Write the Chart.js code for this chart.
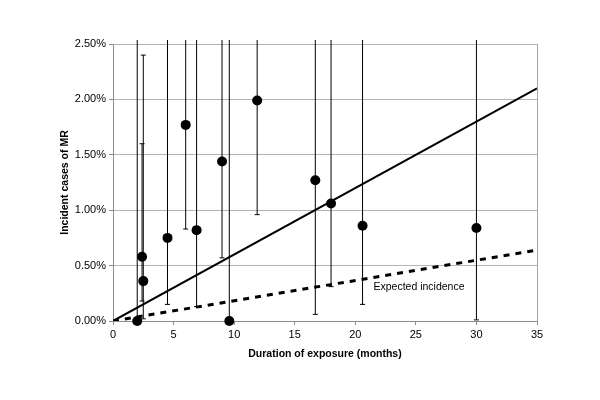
<!DOCTYPE html>
<html>
<head>
<meta charset="utf-8">
<script src="https://cdn.jsdelivr.net/npm/chart.js@4"></script>
<style>
  html, body { margin: 0; padding: 0; background: #fff; }
  #wrap { width: 600px; height: 400px; }
</style>
</head>
<body>
<div id="wrap"><canvas id="chart" width="600" height="400"></canvas></div>
<script>
// observed cases: duration (months) and incidence (%)
const durations = [2.0, 2.4, 2.5, 4.5, 6.0, 6.9, 9.0, 9.6, 11.9, 16.7, 18.0, 20.6, 30.0];
const incidence = [0.00, 0.58, 0.36, 0.75, 1.77, 0.82, 1.44, 0.00, 1.99, 1.27, 1.06, 0.86, 0.84];
// confidence limits (%), null = runs off the top of the axis
const lowerCI = [0.00, 0.18, 0.02, 0.15, 0.83, 0.13, 0.57, 0.00, 0.96, 0.06, 0.31, 0.15, 0.01];
const upperCI = [null, 1.60, 2.40, null, null, null, null, null, null, null, null, null, null];

// fitted trend and expected incidence lines
const lineX = [0, 35];
const fittedY = [0, 2.10];
const expectedY = [0, 0.64];

const xTicks = [0, 5, 10, 15, 20, 25, 30, 35];
const yTicks = [0, 0.5, 1.0, 1.5, 2.0, 2.5];

const FONT = "'Liberation Sans', Arial, sans-serif";

const errorBars = {
  id: 'errorBars',
  beforeDatasetsDraw(chart) {
    const { ctx, chartArea, scales: { x, y } } = chart;
    ctx.save();
    ctx.strokeStyle = '#000';
    ctx.lineWidth = 1;
    durations.forEach((d, i) => {
      const px = x.getPixelForValue(d);
      const lo = y.getPixelForValue(lowerCI[i]);
      const hi = upperCI[i] === null ? chartArea.top - 4 : y.getPixelForValue(upperCI[i]);
      ctx.beginPath();
      ctx.moveTo(px, lo);
      ctx.lineTo(px, hi);
      if (upperCI[i] !== null) {
        ctx.moveTo(px - 2.5, hi);
        ctx.lineTo(px + 2.5, hi);
      }
      ctx.moveTo(px - 2.5, lo);
      ctx.lineTo(px + 2.5, lo);
      ctx.stroke();
    });
    ctx.restore();
  },
  afterDraw(chart) {
    const { ctx, chartArea, scales: { x, y } } = chart;
    ctx.save();
    // right edge of the plot box
    ctx.strokeStyle = '#a6a6a6';
    ctx.lineWidth = 1;
    ctx.beginPath();
    ctx.moveTo(chartArea.right + 0.5, chartArea.top);
    ctx.lineTo(chartArea.right + 0.5, chartArea.bottom);
    ctx.stroke();
    // label for the dashed line
    ctx.fillStyle = '#000';
    ctx.font = '10.5px ' + FONT;
    ctx.textBaseline = 'middle';
    ctx.fillText('Expected incidence', x.getPixelForValue(21.5), y.getPixelForValue(0.31));
    ctx.restore();
  }
};

new Chart(document.getElementById('chart'), {
  type: 'scatter',
  data: {
    datasets: [
      {
        label: 'Observed',
        data: durations.map((d, i) => ({ x: d, y: incidence[i] })),
        backgroundColor: '#000',
        borderColor: '#000',
        borderWidth: 0,
        pointRadius: 5,
        clip: false,
        order: 0
      },
      {
        label: 'Trend',
        data: lineX.map((d, i) => ({ x: d, y: fittedY[i] })),
        showLine: true,
        borderColor: '#000',
        borderWidth: 2,
        pointRadius: 0,
        order: 1
      },
      {
        label: 'Expected incidence',
        data: lineX.map((d, i) => ({ x: d, y: expectedY[i] })),
        showLine: true,
        borderColor: '#000',
        borderWidth: 3,
        borderDash: [6, 6],
        pointRadius: 0,
        order: 2
      }
    ]
  },
  options: {
    responsive: false,
    animation: false,
    layout: { padding: { left: 58, right: 63, top: 44, bottom: 40 } },
    plugins: {
      legend: { display: false },
      tooltip: { enabled: false }
    },
    scales: {
      x: {
        type: 'linear',
        min: xTicks[0],
        max: xTicks[xTicks.length - 1],
        afterBuildTicks: s => { s.ticks = xTicks.map(v => ({ value: v })); },
        afterFit: s => { s.height = 39; },
        border: { color: '#8c8c8c' },
        grid: { drawOnChartArea: false, drawTicks: true, tickLength: 4, color: '#8c8c8c' },
        ticks: { color: '#000', font: { family: FONT, size: 11 }, padding: 3, maxRotation: 0 },
        title: {
          display: true,
          text: 'Duration of exposure (months)',
          color: '#000',
          font: { family: FONT, size: 10.5, weight: 'bold' },
          padding: 0
        }
      },
      y: {
        type: 'linear',
        min: yTicks[0],
        max: yTicks[yTicks.length - 1],
        afterBuildTicks: s => { s.ticks = yTicks.map(v => ({ value: v })); },
        afterFit: s => { s.width = 55; },
        border: { color: '#8c8c8c' },
        grid: { color: '#b4b4b4', tickColor: '#8c8c8c', tickLength: 4 },
        ticks: {
          color: '#000',
          font: { family: FONT, size: 11 },
          padding: 3,
          callback: v => v.toFixed(2) + '%'
        },
        title: {
          display: true,
          text: 'Incident cases of MR',
          color: '#000',
          font: { family: FONT, size: 10.5, weight: 'bold' },
          padding: 1
        }
      }
    }
  },
  plugins: [errorBars]
});
</script>
</body>
</html>
